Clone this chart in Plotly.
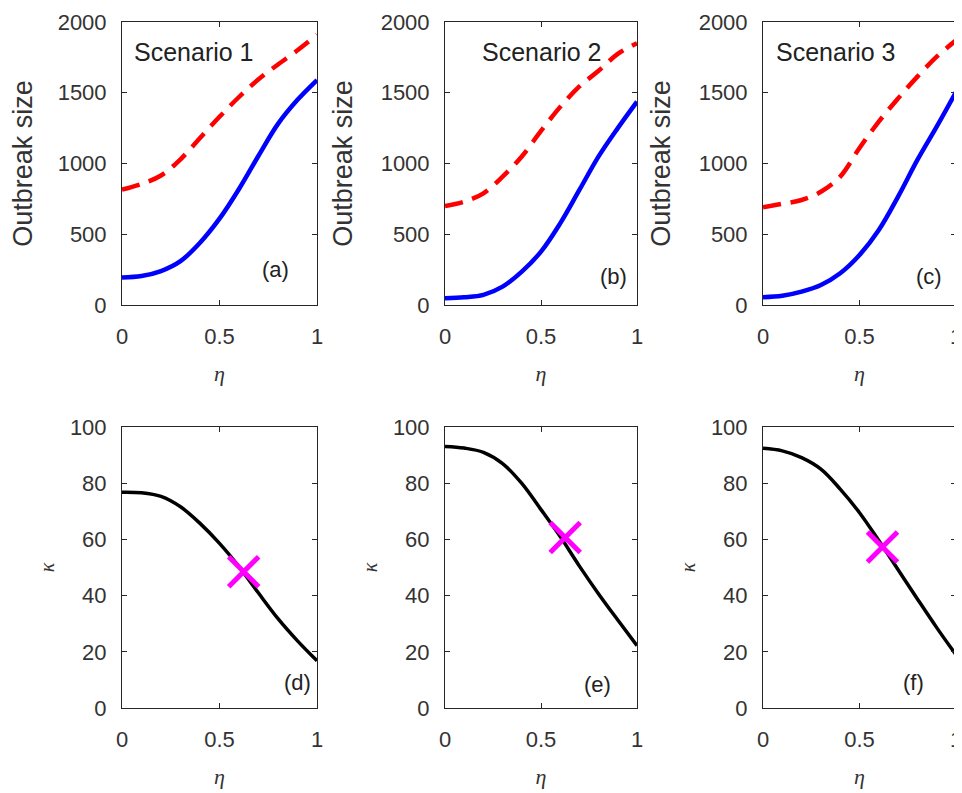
import plotly.graph_objects as go
from plotly.subplots import make_subplots

# ---- data ----
eta = [0.0, 0.1, 0.2, 0.3, 0.4, 0.5, 0.6, 0.7, 0.8, 0.9, 1.0]

outbreak_blue_a = [195, 205, 240, 310, 440, 610, 820, 1055, 1280, 1450, 1590]
outbreak_red_a = [815, 855, 915, 1030, 1180, 1330, 1470, 1595, 1700, 1800, 1910]
outbreak_blue_b = [48, 55, 72, 130, 236, 377, 577, 813, 1050, 1250, 1437]
outbreak_red_b = [700, 730, 789, 907, 1050, 1230, 1400, 1545, 1655, 1775, 1850]
outbreak_blue_c = [55, 65, 94, 141, 224, 353, 530, 766, 1025, 1260, 1505]
outbreak_red_c = [690, 715, 742, 800, 907, 1110, 1296, 1460, 1614, 1755, 1870]

kappa_d = [76.8, 76.6, 75.3, 71.6, 65.7, 58.6, 50.3, 40.9, 31.8, 23.9, 16.8]
kappa_e = [93.1, 92.5, 91.0, 87.0, 79.9, 70.6, 61.0, 50.5, 40.6, 31.3, 22.2]
kappa_f = [92.4, 91.5, 89.1, 85.0, 77.9, 69.5, 59.6, 49.2, 38.8, 28.6, 18.9]

cross_eta = [0.624, 0.626, 0.619]
cross_kappa = [48.5, 60.7, 57.3]

scenario_labels = ["Scenario 1", "Scenario 2", "Scenario 3"]
panel_labels_top = ["(a)", "(b)", "(c)"]
panel_labels_bottom = ["(d)", "(e)", "(f)"]
outbreak_ticks = [0, 500, 1000, 1500, 2000]
kappa_ticks = [0, 20, 40, 60, 80, 100]
eta_ticks = [0, 0.5, 1]
eta_tick_text = ["0", "0.5", "1"]

OFF = 8  # page body margin
W, H = 962, 793 - OFF
TXT = "#333333"
FONT = "Liberation Sans"

fig = make_subplots(rows=2, cols=3)

blues = [outbreak_blue_a, outbreak_blue_b, outbreak_blue_c]
reds = [outbreak_red_a, outbreak_red_b, outbreak_red_c]
kappas = [kappa_d, kappa_e, kappa_f]

for i in range(3):
    fig.add_trace(go.Scatter(x=eta, y=reds[i], mode="lines", line_shape="spline",
                             line=dict(color="#ff0000", width=4.5, dash="18px,10px"),
                             showlegend=False), row=1, col=i + 1)
    fig.add_trace(go.Scatter(x=eta, y=blues[i], mode="lines", line_shape="spline",
                             line=dict(color="#0000ff", width=4.5),
                             showlegend=False), row=1, col=i + 1)
    fig.add_trace(go.Scatter(x=eta, y=kappas[i], mode="lines", line_shape="spline",
                             line=dict(color="#000000", width=3.5),
                             showlegend=False), row=2, col=i + 1)
    fig.add_trace(go.Scatter(x=[cross_eta[i]], y=[cross_kappa[i]], mode="markers",
                             marker=dict(symbol="x-thin", size=30, color="#ff00ff",
                                         line=dict(color="#ff00ff", width=5)),
                             showlegend=False), row=2, col=i + 1)

# axes pixel boxes in screen coordinates (left, right) and (top, bottom)
xpx = [(122, 317), (445, 637), (763, 956)]
ypx = [(22, 305), (427, 708)]

axis_common = dict(showline=True, linecolor="#262626", linewidth=1, mirror="ticks",
                   ticks="inside", ticklen=5, tickcolor="#262626", showgrid=False,
                   zeroline=False, automargin=False,
                   tickfont=dict(family=FONT, size=22, color=TXT))

for r in range(2):
    for c in range(3):
        idx = r * 3 + c + 1
        xa = "xaxis" if idx == 1 else f"xaxis{idx}"
        ya = "yaxis" if idx == 1 else f"yaxis{idx}"
        x0, x1 = [(v - OFF) / W for v in xpx[c]]
        y0, y1 = [(v - OFF) / H for v in ypx[r]]
        fig.layout[xa].update(domain=[x0, x1], range=[0, 1],
                              tickvals=eta_ticks, ticktext=eta_tick_text,
                              ticklabelstandoff=12,
                              title=dict(text="<i>η</i>", standoff=17,
                                         font=dict(family="Liberation Serif", size=22, color=TXT)),
                              **axis_common)
        if r == 0:
            fig.layout[ya].update(domain=[1 - y1, 1 - y0], range=[0, 2000],
                                  tickvals=outbreak_ticks,
                                  ticklabelstandoff=10,
                                  title=dict(text="Outbreak size", standoff=20,
                                             font=dict(family=FONT, size=27, color=TXT)),
                                  **axis_common)
        else:
            fig.layout[ya].update(domain=[1 - y1, 1 - y0], range=[0, 100],
                                  tickvals=kappa_ticks,
                                  ticklabelstandoff=10,
                                  title=dict(text="<i>κ</i>", standoff=9,
                                             font=dict(family="Liberation Serif", size=20, color=TXT)),
                                  **axis_common)

scen_x = [0.367, 0.503, 0.376]
top_lbl = [(0.785, 0.124), (0.875, 0.099), (0.86, 0.099)]
bot_lbl = [(0.90, 0.089), (0.794, 0.082), (0.78, 0.089)]
for c in range(3):
    n = c + 1
    xr = "x domain" if n == 1 else f"x{n} domain"
    yr = "y domain" if n == 1 else f"y{n} domain"
    fig.add_annotation(text=scenario_labels[c], xref=xr, yref=yr, x=scen_x[c], y=0.894,
                       showarrow=False, xanchor="center", yanchor="middle",
                       font=dict(family=FONT, size=25, color="#222222"))
    fig.add_annotation(text=panel_labels_top[c], xref=xr, yref=yr, x=top_lbl[c][0], y=top_lbl[c][1],
                       showarrow=False, xanchor="center", yanchor="middle",
                       font=dict(family=FONT, size=22, color="#222222"))
    n2 = c + 4
    xr2 = f"x{n2} domain"
    yr2 = f"y{n2} domain"
    fig.add_annotation(text=panel_labels_bottom[c], xref=xr2, yref=yr2, x=bot_lbl[c][0], y=bot_lbl[c][1],
                       showarrow=False, xanchor="center", yanchor="middle",
                       font=dict(family=FONT, size=22, color="#222222"))

fig.update_layout(width=W, height=H, margin=dict(l=0, r=0, t=0, b=0),
                  paper_bgcolor="white", plot_bgcolor="white", showlegend=False)

fig.write_html("out.html")
